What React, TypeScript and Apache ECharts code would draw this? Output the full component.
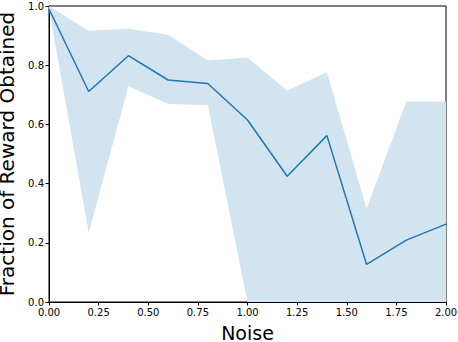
import React, { useEffect, useRef } from "react";
import * as echarts from "echarts";

const noise = [0, 0.2, 0.4, 0.6, 0.8, 1.0, 1.2, 1.4, 1.6, 1.8, 2.0];
const meanReward = [0.99, 0.711, 0.832, 0.75, 0.738, 0.615, 0.425, 0.562, 0.127, 0.209, 0.263];
const upperReward = [1.0, 0.916, 0.923, 0.903, 0.816, 0.826, 0.714, 0.777, 0.315, 0.677, 0.677];
const lowerReward = [0.99, 0.234, 0.729, 0.67, 0.665, 0.0, 0.0, 0.0, 0.0, 0.0, 0.0];

const LINE_COLOR = "#1f77b4";
const BAND_COLOR = "#d2e4f0";
const FONT = "DejaVu Sans";

export default function App() {
  const ref = useRef<HTMLDivElement>(null);
  useEffect(() => {
    if (!ref.current) return;
    const chart = echarts.init(ref.current, null, { renderer: "svg" });
    chart.setOption({
      animation: false,
      grid: {
        left: 49,
        right: 12,
        top: 6,
        bottom: 40,
        show: true,
        borderColor: "#000",
        borderWidth: 1,
        backgroundColor: "transparent",
        outerBoundsMode: "none",
        containLabel: false,
      },
      xAxis: {
        type: "value",
        min: 0,
        max: 2,
        interval: 0.25,
        name: "Noise",
        nameLocation: "middle",
        nameGap: 21,
        nameTextStyle: { fontFamily: FONT, fontSize: 19, color: "#000" },
        axisLine: { show: true, onZero: false, lineStyle: { color: "#000" } },
        axisTick: { show: true, length: 3.5, lineStyle: { color: "#000" } },
        axisLabel: {
          fontFamily: FONT,
          fontSize: 10,
          color: "#000",
          margin: 5,
          formatter: (v: number) => v.toFixed(2),
        },
        splitLine: { show: false },
      },
      yAxis: {
        type: "value",
        min: 0,
        max: 1,
        interval: 0.2,
        name: "Fraction of Reward Obtained",
        nameLocation: "middle",
        nameGap: 29,
        nameTextStyle: { fontFamily: FONT, fontSize: 20, color: "#000" },
        axisLine: { show: true, lineStyle: { color: "#000" } },
        axisTick: { show: true, length: 3.5, lineStyle: { color: "#000" } },
        axisLabel: {
          fontFamily: FONT,
          fontSize: 10,
          color: "#000",
          margin: 5,
          formatter: (v: number) => v.toFixed(1),
        },
        splitLine: { show: false },
      },
      series: [
        {
          type: "custom",
          data: noise.map((x, i) => [x, lowerReward[i], upperReward[i]]),
          silent: true,
          clip: true,
          z: 1,
          renderItem: (params: any, api: any) => {
            if (params.dataIndex !== 0) return null;
            const top = noise.map((x, i) => api.coord([x, upperReward[i]]));
            const bottom = noise
              .map((x, i) => api.coord([x, lowerReward[i]]))
              .reverse();
            return {
              type: "polygon",
              shape: { points: top.concat(bottom) },
              style: { fill: BAND_COLOR, stroke: "none" },
            };
          },
        },
        {
          type: "line",
          data: noise.map((x, i) => [x, meanReward[i]]),
          symbol: "none",
          lineStyle: { color: LINE_COLOR, width: 1.5 },
          z: 5,
        },
      ],
    });
    return () => chart.dispose();
  }, []);
  return (
    <div
      ref={ref}
      style={{ position: "absolute", left: 0, top: 0, width: 458, height: 342 }}
    />
  );
}
